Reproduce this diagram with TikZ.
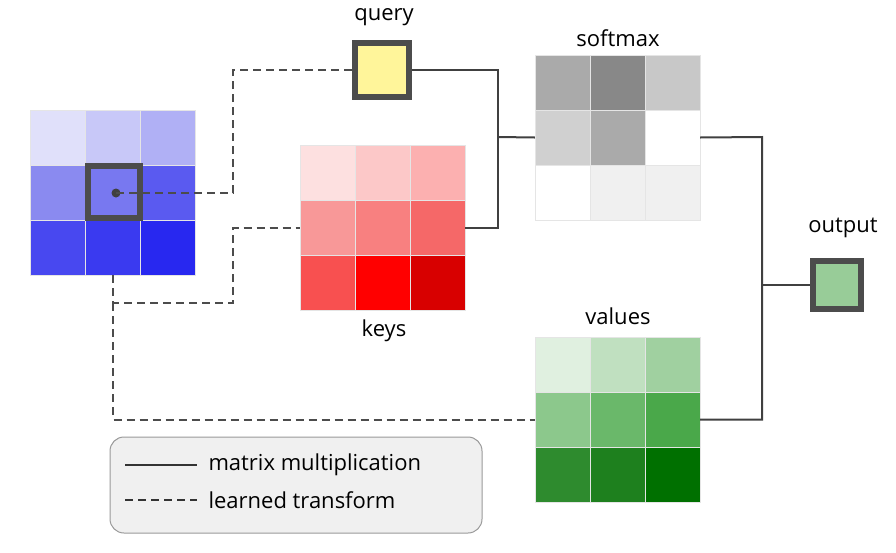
\documentclass[tikz,border=0pt]{standalone}
\usepackage{fontspec}
\setmainfont{Open Sans}
\begin{document}
\begin{tikzpicture}[x=1pt,y=-1pt,
  cell/.style={draw=white!80!gray,line width=0.8pt},
  lbl/.style={font=\fontsize{22}{26}\selectfont},
  solidl/.style={line width=2pt,draw=black!75},
  dashl/.style={line width=2pt,draw=black!70,dash pattern=on 8pt off 5pt},
  hl/.style={draw=black!70,line width=6pt}]
\useasboundingbox (0,0) rectangle (896,552);
\newcommand{\mygrid}[4]{%
  \foreach \c [count=\i from 0] in {#4}{
    \pgfmathtruncatemacro{\r}{\i/3}\pgfmathtruncatemacro{\q}{mod(\i,3)}
    \fill[\c] (#1+\q*55,#2+\r*55) rectangle ++(55,55);
    \draw[cell] (#1+\q*55,#2+\r*55) rectangle ++(55,55);}
  \node[inner sep=0,minimum width=165,minimum height=165] (#3) at (#1+82.5,#2+82.5) {};}
\definecolor{b1}{HTML}{E0E0FA}\definecolor{b2}{HTML}{C8C8F8}\definecolor{b3}{HTML}{B0B0F5}
\definecolor{b4}{HTML}{8A8AF0}\definecolor{b5}{HTML}{7878F0}\definecolor{b6}{HTML}{5A5AF0}
\definecolor{b7}{HTML}{4848F0}\definecolor{b8}{HTML}{3A3AF0}\definecolor{b9}{HTML}{2828F0}
\definecolor{k1}{HTML}{FDE0E0}\definecolor{k2}{HTML}{FCC8C8}\definecolor{k3}{HTML}{FCB0B0}
\definecolor{k4}{HTML}{F89898}\definecolor{k5}{HTML}{F88080}\definecolor{k6}{HTML}{F56868}
\definecolor{k7}{HTML}{F85050}\definecolor{k8}{HTML}{FF0000}\definecolor{k9}{HTML}{D80000}
\definecolor{s1}{HTML}{AAAAAA}\definecolor{s2}{HTML}{888888}\definecolor{s3}{HTML}{C8C8C8}
\definecolor{s4}{HTML}{D0D0D0}\definecolor{s5}{HTML}{AAAAAA}\definecolor{s6}{HTML}{FFFFFF}
\definecolor{s7}{HTML}{FFFFFF}\definecolor{s8}{HTML}{F0F0F0}\definecolor{s9}{HTML}{F0F0F0}
\definecolor{v1}{HTML}{E0F0E0}\definecolor{v2}{HTML}{C0E0C0}\definecolor{v3}{HTML}{A0D0A0}
\definecolor{v4}{HTML}{8CC88C}\definecolor{v5}{HTML}{6AB86A}\definecolor{v6}{HTML}{4AA84A}
\definecolor{v7}{HTML}{2E8B2E}\definecolor{v8}{HTML}{1E801E}\definecolor{v9}{HTML}{007000}
\definecolor{qy}{HTML}{FFF59A}\definecolor{og}{HTML}{98CC98}
\mygrid{30}{110}{inp}{b1,b2,b3,b4,b5,b6,b7,b8,b9}
\mygrid{300}{145}{keys}{k1,k2,k3,k4,k5,k6,k7,k8,k9}
\mygrid{535}{55}{soft}{s1,s2,s3,s4,s5,s6,s7,s8,s9}
\mygrid{535}{337}{vals}{v1,v2,v3,v4,v5,v6,v7,v8,v9}
\draw[hl] (88,166) rectangle (140,218);
\node[draw=black!70,line width=6pt,fill=qy,minimum size=54,inner sep=0] (query) at (382,70) {};
\node[draw=black!70,line width=6pt,fill=og,minimum size=48,inner sep=0] (out) at (837,285) {};
\node[lbl] at (384,17) {query};
\node[lbl] at (384,331) {keys};
\node[lbl] at (618,38) {softmax};
\node[lbl] at (618,316) {values};
\node[lbl] at (843,228) {output};
\coordinate (dot) at (116,193);
\fill[black!75] (dot) circle (4.5);
\draw[dashl] (dot) -- (233,193) |- (query.west);
\coordinate (ib) at (113,275);
\draw[dashl] (ib) |- (233,303) |- (keys.west);
\draw[dashl] (113,303) |- (vals.west);
\draw[solidl] (query.east) -- (498,70) |- (keys.east);
\draw[solidl] (498,137) -- (soft.west);
\draw[solidl] (soft.east) -- (762,137) |- (vals.east);
\draw[solidl] (762,285) -- (out.west);
\node[draw=black!40,fill=black!6,rounded corners=14,line width=1pt,minimum width=372,minimum height=96,inner sep=0] (leg) at (296,485) {};
\draw[line width=1.6pt,black!80] (125,465) -- (197,465);
\draw[line width=1.6pt,black!80,dash pattern=on 8pt off 5pt] (125,500) -- (197,500);
\node[lbl,anchor=west] at (205,465) {matrix multiplication};
\node[lbl,anchor=west] at (205,500) {learned transform};
\end{tikzpicture}
\end{document}
